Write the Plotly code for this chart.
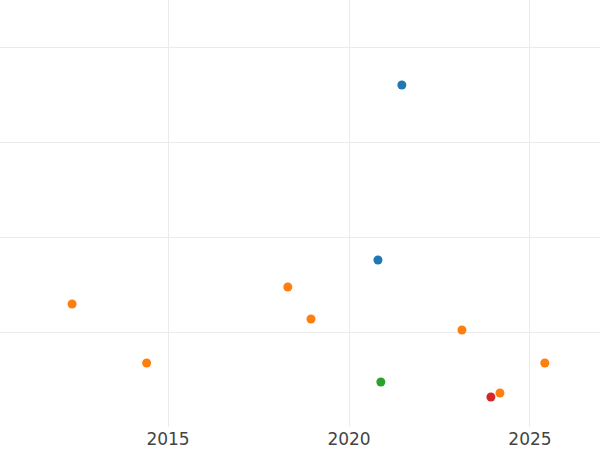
import plotly.graph_objects as go

# Data (x in decimal years, y in arbitrary units)
blue_x = [2021.46, 2020.80]
blue_y = [36.0, 17.58]
orange_x = [2012.35, 2014.41, 2018.31, 2018.95, 2023.12, 2025.41, 2024.17]
orange_y = [12.95, 6.74, 14.74, 11.37, 10.21, 6.74, 3.58]
green_x = [2020.88]
green_y = [4.74]
red_x = [2023.92]
red_y = [3.16]

x_ticks = [2015, 2020, 2025]
x_tick_labels = ["2015", "2020", "2025"]

series = [
    (blue_x, blue_y, "#1f77b4"),
    (orange_x, orange_y, "#ff7f0e"),
    (green_x, green_y, "#2ca02c"),
    (red_x, red_y, "#d62728"),
]

fig = go.Figure()
for xs, ys, col in series:
    fig.add_trace(go.Scatter(x=xs, y=ys, mode="markers",
                             marker=dict(color=col, size=9, line=dict(width=0)),
                             showlegend=False))

fig.update_layout(
    width=600, height=450,
    margin=dict(l=0, r=0, t=0, b=23),
    paper_bgcolor="white", plot_bgcolor="white",
    font=dict(family="DejaVu Sans", size=17, color="#444444"),
    showlegend=False,
)
fig.update_xaxes(range=[2010.359, 2026.934], tickvals=x_ticks, ticktext=x_tick_labels,
                 showgrid=True, gridcolor="#ebebeb", gridwidth=1, zeroline=False,
                 showline=False, ticks="", ticklen=0)
fig.update_yaxes(range=[0, 44.95], dtick=10, showticklabels=False,
                 showgrid=True, gridcolor="#ebebeb", gridwidth=1, zeroline=False,
                 showline=False, ticks="")

fig.write_html("out.html", config={"displayModeBar": False},
               post_script="document.body.style.margin='0';")
